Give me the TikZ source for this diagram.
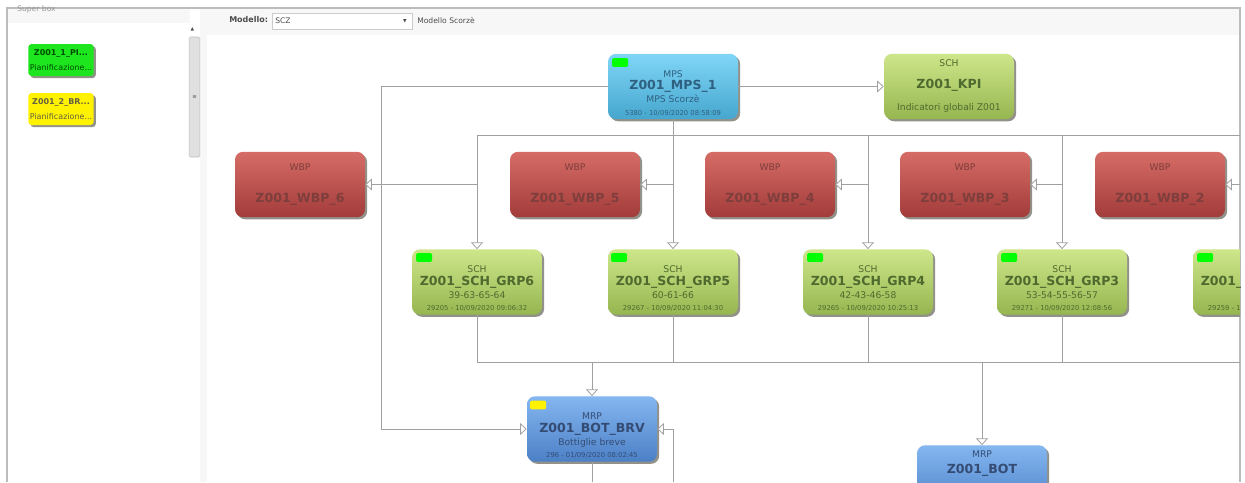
\documentclass[tikz,border=0pt]{standalone}
\usepackage{fontspec}
\setmainfont{DejaVu Sans}
\usetikzlibrary{arrows.meta}
\definecolor{edgegray}{HTML}{A0A0A0}
\definecolor{shadowgray}{HTML}{92928A}
\definecolor{panelbg}{HTML}{F7F7F7}
\definecolor{mpstop}{HTML}{7FD6F7}\definecolor{mpsbot}{HTML}{46A6CE}
\definecolor{schtop}{HTML}{CDE68A}\definecolor{schbot}{HTML}{96B650}
\definecolor{wbptop}{HTML}{D66C66}\definecolor{wbpbot}{HTML}{A23C3A}
\definecolor{mrptop}{HTML}{84B6F0}\definecolor{mrpbot}{HTML}{4C80C6}
\definecolor{mpstext}{HTML}{2F6080}\definecolor{schtext}{HTML}{4F6A2E}
\definecolor{wbptext}{HTML}{7E3E3C}\definecolor{mrptext}{HTML}{344C74}
\definecolor{palgreen}{HTML}{1EE61E}
\newcommand{\nm}[1]{{\fontsize{9.4}{10}\bfseries #1}}
\newcommand{\dat}[1]{{\fontsize{5.1}{9}\selectfont #1}}
\tikzset{
  x=0.75pt,y=-0.75pt,
  base/.style={rounded corners=6pt,minimum width=97.5pt,minimum height=49pt,inner sep=0pt,align=center,
    preaction={fill=shadowgray,transform canvas={shift={(1.6pt,-1.6pt)}}}},
  mpsbox/.style={base,top color=mpstop,bottom color=mpsbot,text=mpstext,font=\fontsize{6.9}{9.6}\selectfont},
  kpibox/.style={base,top color=schtop,bottom color=schbot,text=schtext,font=\fontsize{6.9}{16.5}\selectfont},
  wbpbox/.style={base,top color=wbptop,bottom color=wbpbot,text=wbptext,font=\fontsize{6.9}{24.5}\selectfont},
  schbox/.style={base,top color=schtop,bottom color=schbot,text=schtext,font=\fontsize{6.9}{9.6}\selectfont},
  mrpbox/.style={base,top color=mrptop,bottom color=mrpbot,text=mrptext,font=\fontsize{6.9}{9.6}\selectfont},
  lamp/.style={fill=#1,rounded corners=1pt,minimum width=12pt,minimum height=6.5pt,inner sep=0pt},
  sidebox/.style={rounded corners=2.5pt,minimum width=49pt,minimum height=24pt,inner sep=0pt,align=center,
    preaction={fill=shadowgray,transform canvas={shift={(1.6pt,-1.6pt)}}},font=\fontsize{6}{11.25}\selectfont},
  link/.style={draw=edgegray,line width=0.6pt},
  head/.style={link,-{Triangle[open,fill=white,length=5pt,width=9pt]}},
  ui/.style={inner sep=0pt,font=\fontsize{5.7}{6}\selectfont,text=black!70},
}
\begin{document}
\begin{tikzpicture}
\useasboundingbox (0,0) rectangle (1245,482);
\fill[white] (0,0) rectangle (1245,482);
% window chrome
\fill[panelbg] (205,9) rectangle (1240,35);
\fill[panelbg] (200,9) rectangle (207,482);
\fill[panelbg] (8,9) rectangle (190,23);
\draw[edgegray!70,line width=0.8pt] (7,482) -- (7,8) -- (1240,8) -- (1240,482);
\node[ui,anchor=west,text=black!40] (superbox) at (17,9) {Super box};
% scrollbar
\node[draw=black!25,fill=black!12,rounded corners=1pt,minimum width=8pt,minimum height=90pt,inner sep=0pt] (thumb) at (194.5,97) {};
\node[ui,font=\fontsize{4}{4}\selectfont] (grip) at (194.5,97) {≡};
\node[ui,font=\fontsize{3.5}{4}\selectfont] (up) at (192.5,29) {▲};
% toolbar
\node[ui,anchor=west,font=\fontsize{6}{6}\bfseries] (modello) at (229,20) {Modello:};
\node[draw=black!20,fill=white,minimum width=105pt,minimum height=12pt,inner sep=0pt] (combo) at (342,21) {};
\node[ui,anchor=west] (scz) at (275,20.5) {SCZ};
\node[ui,font=\fontsize{3.5}{4}\selectfont] (drop) at (405,21) {▼};
\node[ui,anchor=west] (modeldesc) at (417,20.5) {Modello Scorzè};
% palette
\node[sidebox,fill=palgreen,text=green!30!black] (pal1) at (61,60) {\textbf{Z001\_1\_PI...}\\Pianificazione...};
\node[sidebox,fill=yellow,text=yellow!30!black] (pal2) at (61,109) {\textbf{Z001\_2\_BR...}\\Pianificazione...};
% diagram
\begin{scope}
\clip (207,36) rectangle (1240,482);
\coordinate (tl) at (477,135);
\coordinate (tr) at (1240,135);
\coordinate (bl) at (477,362);
\coordinate (br) at (1240,362);
\coordinate (jr) at (1240,184.5);
\coordinate (j6) at (477,184.5);
\coordinate (j5) at (673,184.5);
\coordinate (j4) at (868,184.5);
\coordinate (j3) at (1062,184.5);
\coordinate (t4) at (868,135);
\coordinate (t3) at (1062,135);
\coordinate (b5) at (673,362);
\coordinate (b4) at (868,362);
\coordinate (b3) at (1062,362);
\coordinate (bb) at (592,362);
\coordinate (bm) at (982,362);
\coordinate (co) at (381,86.5);
\coordinate (cc) at (381,429);
\coordinate (ba) at (592,482);
\coordinate (re) at (673,482);
\coordinate (rc) at (673,429);
\node[mpsbox] (mps) at (673,86.5) {\mbox{}\\[5.5pt]MPS\\\nm{Z001\_MPS\_1}\\MPS Scorzè\\\dat{5380 - 10/09/2020 08:58:09}};
\node[kpibox] (kpi) at (949,86.5) {SCH\\\nm{Z001\_KPI}\\Indicatori globali Z001};
\node[wbpbox] (w6) at (300,184.5) {WBP\\\nm{Z001\_WBP\_6}};
\node[wbpbox] (w5) at (575,184.5) {WBP\\\nm{Z001\_WBP\_5}};
\node[wbpbox] (w4) at (770,184.5) {WBP\\\nm{Z001\_WBP\_4}};
\node[wbpbox] (w3) at (965,184.5) {WBP\\\nm{Z001\_WBP\_3}};
\node[wbpbox] (w2) at (1160,184.5) {WBP\\\nm{Z001\_WBP\_2}};
\node[schbox] (g6) at (477,282) {\mbox{}\\[5.5pt]SCH\\\nm{Z001\_SCH\_GRP6}\\39-63-65-64\\\dat{29205 - 10/09/2020 09:06:32}};
\node[schbox] (g5) at (673,282) {\mbox{}\\[5.5pt]SCH\\\nm{Z001\_SCH\_GRP5}\\60-61-66\\\dat{29267 - 10/09/2020 11:04:30}};
\node[schbox] (g4) at (868,282) {\mbox{}\\[5.5pt]SCH\\\nm{Z001\_SCH\_GRP4}\\42-43-46-58\\\dat{29265 - 10/09/2020 10:25:13}};
\node[schbox] (g3) at (1062,282) {\mbox{}\\[5.5pt]SCH\\\nm{Z001\_SCH\_GRP3}\\53-54-55-56-57\\\dat{29271 - 10/09/2020 12:08:56}};
\node[schbox] (g2) at (1258,282) {\mbox{}\\[5.5pt]SCH\\\nm{Z001\_SCH\_GRP2}\\\mbox{}\\\dat{29259 - 10/09/2020 09:12:40}};
\node[mrpbox] (brv) at (592,429) {\mbox{}\\[5.5pt]MRP\\\nm{Z001\_BOT\_BRV}\\Bottiglie breve\\\dat{296 - 01/09/2020 08:02:45}};
\node[mrpbox,font=\fontsize{6.9}{12}\selectfont] (bot) at (982,478) {MRP\\\nm{Z001\_BOT}\\\mbox{}\\\mbox{}};
\node[lamp=green] (l0) at (620,62.5) {};
\node[lamp=green] (l6) at (424,257.5) {};
\node[lamp=green] (l5) at (619,257.5) {};
\node[lamp=green] (l4) at (815,257.5) {};
\node[lamp=green] (l3) at (1009,257.5) {};
\node[lamp=green] (l2) at (1205,257.5) {};
\node[lamp=yellow] (ly) at (538,405) {};
\draw[link] (tl) -- (tr);
\draw[link] (bl) -- (br);
\draw[head] (mps.west) -- (co) -- (cc) -- (brv.west);
\draw[head] (mps.east) -- (kpi.west);
\draw[head] (mps.south) -- (g5.north);
\draw[head] (tl) -- (g6.north);
\draw[head] (t4) -- (g4.north);
\draw[head] (t3) -- (g3.north);
\draw[head] (j6) -- (w6.east);
\draw[head] (j5) -- (w5.east);
\draw[head] (j4) -- (w4.east);
\draw[head] (j3) -- (w3.east);
\draw[head] (jr) -- (w2.east);
\draw[link] (g6.south) -- (bl);
\draw[link] (g5.south) -- (b5);
\draw[link] (g4.south) -- (b4);
\draw[link] (g3.south) -- (b3);
\draw[head] (bb) -- (brv.north);
\draw[head] (bm) -- (bot.north);
\draw[link] (brv.south) -- (ba);
\draw[head] (re) -- (rc) -- (brv.east);
\end{scope}
\end{tikzpicture}
\end{document}
